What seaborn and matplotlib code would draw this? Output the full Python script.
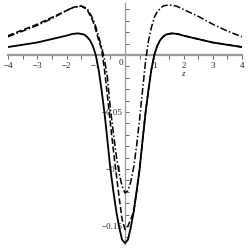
import numpy as np
import pandas as pd
import seaborn as sns
import matplotlib
matplotlib.use("Agg")
import matplotlib.pyplot as plt
from matplotlib.ticker import MultipleLocator, FixedLocator

# ---- data ----
z_solid_half = [0.0, 0.1, 0.2, 0.3, 0.4, 0.5, 0.6, 0.7, 0.8, 0.9, 1.0, 1.1, 1.2, 1.3, 1.4,
                1.6, 1.8, 2.0, 2.5, 3.0, 3.5, 4.0]
solid_half = [-0.165, -0.162, -0.151, -0.137, -0.119, -0.100, -0.075, -0.051, -0.031, -0.013,
              0.000, 0.008, 0.013, 0.016, 0.018, 0.019, 0.0185, 0.017, 0.014, 0.011, 0.009, 0.007]

z_dashdot = [-4.0, -3.5, -3.0, -2.5, -2.0, -1.75, -1.5, -1.3, -1.1, -1.0, -0.9, -0.8, -0.7,
             -0.6, -0.5, -0.4, -0.3, -0.2, -0.1, 0.0, 0.1, 0.2, 0.3, 0.4, 0.5, 0.6, 0.7,
             0.8, 0.9, 1.0, 1.1, 1.3, 1.5, 1.75, 2.0, 2.5, 3.0, 3.5, 4.0]
dashdot = [0.016, 0.021, 0.026, 0.032, 0.039, 0.042, 0.043, 0.041, 0.032, 0.025, 0.016, 0.007,
           -0.004, -0.020, -0.047, -0.068, -0.088, -0.104, -0.115, -0.121, -0.119, -0.111,
           -0.098, -0.079, -0.056, -0.031, -0.006, 0.012, 0.024, 0.033, 0.038, 0.043, 0.044,
           0.043, 0.040, 0.034, 0.027, 0.021, 0.016]

z_dashed = [-4.0, -3.5, -3.0, -2.5, -2.0, -1.75, -1.5, -1.3, -1.1, -1.0, -0.9, -0.8, -0.7,
            -0.6, -0.5, -0.4, -0.3, -0.2, -0.1, 0.0, 0.1, 0.2, 0.3, 0.4, 0.5, 0.6, 0.7,
            0.8, 0.9, 1.0, 1.1, 1.2, 1.3, 1.4, 1.6, 1.8, 2.0, 2.5, 3.0, 3.5, 4.0]
dashed = [0.017, 0.022, 0.027, 0.033, 0.039, 0.042, 0.043, 0.040, 0.030, 0.022, 0.013, 0.005,
          -0.013, -0.036, -0.060, -0.083, -0.104, -0.125, -0.144, -0.153, -0.150, -0.144,
          -0.137, -0.119, -0.100, -0.075, -0.051, -0.031, -0.013, 0.000, 0.008, 0.013,
          0.016, 0.018, 0.019, 0.0185, 0.017, 0.014, 0.011, 0.009, 0.007]

x_tick_vals = [-4, -3, -2, -1, 1, 2, 3, 4]
x_tick_labels = ["−4", "−3", "−2", "−1", "1", "2", "3", "4"]
y_tick_vals = [-0.15, -0.1, -0.05]
y_tick_labels = ["−0.15", "−0.1", "−0.05"]

z_solid = [-v for v in z_solid_half[::-1]] + z_solid_half[1:]
solid = solid_half[::-1] + solid_half[1:]

sns.set_style("white")
plt.rcParams["font.family"] = ["Liberation Serif", "DejaVu Serif"]

fig = plt.figure(figsize=(2.49, 2.49), dpi=100)
ax = fig.add_axes([8 / 249, 0.019, 234 / 249, 0.9706])

sns.lineplot(x=z_dashed, y=dashed, ax=ax, color="black", lw=1.1, sort=False, zorder=2)
ax.lines[-1].set_dashes([4.0, 1.7])
sns.lineplot(x=z_dashdot, y=dashdot, ax=ax, color="black", lw=1.1, sort=False, zorder=3)
ax.lines[-1].set_dashes([4.5, 1.5, 1.0, 1.5])
sns.lineplot(x=z_solid, y=solid, ax=ax, color="black", lw=1.3, sort=False, zorder=4)

ax.set_xlim(-4, 4)
ax.set_ylim(-0.166, 0.046)

for side in ["top", "right"]:
    ax.spines[side].set_visible(False)
ax.spines["left"].set_position(("data", 0))
ax.spines["bottom"].set_position(("data", 0))
ax.spines["bottom"].set_color("#9a9a9a")
ax.spines["bottom"].set_linewidth(1.6)
ax.spines["left"].set_color("#9a9a9a")
ax.spines["left"].set_linewidth(0.9)
ax.spines["bottom"].set_zorder(1)
ax.spines["left"].set_zorder(1)

ax.xaxis.set_major_locator(FixedLocator(x_tick_vals))
ax.set_xticklabels(x_tick_labels)
ax.xaxis.set_minor_locator(MultipleLocator(0.5))
ax.yaxis.set_major_locator(FixedLocator(y_tick_vals))
ax.set_yticklabels(y_tick_labels)
ax.yaxis.set_minor_locator(FixedLocator([-0.16, -0.14, -0.13, -0.12, -0.11, -0.09, -0.08,
                                         -0.07, -0.06, -0.04, -0.03, -0.02, -0.01,
                                         0.01, 0.02, 0.03, 0.04]))
ax.tick_params(axis="x", which="both", direction="out", length=3, width=0.7,
               color="#666666", labelsize=6.5, pad=2, bottom=True)
ax.tick_params(axis="y", which="both", direction="in", length=3, width=0.7,
               color="#666666", labelsize=6.5, pad=2, left=True)

ax.text(-0.08, -0.0035, "0", fontsize=6.5, ha="right", va="top")
ax.text(1.98, -0.0165, "z", fontsize=6.5, style="italic", ha="center", va="center")
ax.set_xlabel("")
ax.set_ylabel("")
ax.patch.set_alpha(0)

fig.savefig("out.png", dpi=100)
